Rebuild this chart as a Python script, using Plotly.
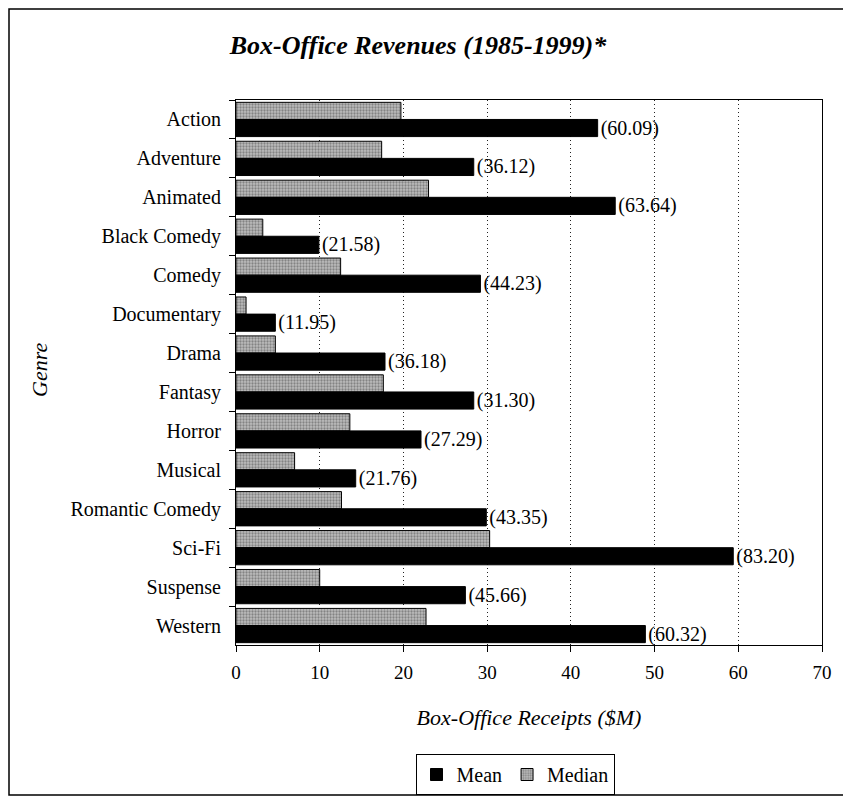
import plotly.graph_objects as go

genres = ["Action", "Adventure", "Animated", "Black Comedy", "Comedy", "Documentary",
          "Drama", "Fantasy", "Horror", "Musical", "Romantic Comedy", "Sci-Fi",
          "Suspense", "Western"]
mean_vals = [43.2, 28.4, 45.3, 9.9, 29.2, 4.7, 17.8, 28.4, 22.1, 14.3, 29.9, 59.4, 27.4, 48.9]
median_vals = [19.7, 17.4, 23.0, 3.2, 12.5, 1.2, 4.7, 17.6, 13.6, 7.0, 12.6, 30.3, 10.0, 22.7]
mean_labels = ["(60.09)", "(36.12)", "(63.64)", "(21.58)", "(44.23)", "(11.95)", "(36.18)",
               "(31.30)", "(27.29)", "(21.76)", "(43.35)", "(83.20)", "(45.66)", "(60.32)"]
x_ticks = [0, 10, 20, 30, 40, 50, 60, 70]

FONT = "Liberation Serif, Times New Roman, serif"

W, H = 843, 790          # page body has an 8px margin
L, T, PW, PH = 228, 92, 586, 545
B = H - T - PH
R = W - L - PW
def px(x):
    return (x - L) / PW
def py(y):
    return (T + PH - y) / PH

fig = go.Figure()
fig.add_trace(go.Bar(
    name="Median", y=genres, x=median_vals, orientation="h",
    marker=dict(color="#a0a0a0", line=dict(color="black", width=1),
                pattern=dict(shape=".", fgcolor="#4a4a4a", bgcolor="#bdbdbd",
                             size=3, solidity=0.45)),
    legendrank=2,
))
fig.add_trace(go.Bar(
    name="Mean", y=genres, x=mean_vals, orientation="h",
    marker=dict(color="black", line=dict(color="black", width=1)),
    text=mean_labels, textposition="outside", cliponaxis=False, constraintext="none",
    textfont=dict(family=FONT, size=20, color="black"),
    legendrank=1,
))

fig.update_layout(
    width=W, height=H,
    paper_bgcolor="white", plot_bgcolor="white",
    margin=dict(l=L, r=R, t=T, b=B, autoexpand=False),
    barmode="group", bargap=0.12, bargroupgap=0.0,
    font=dict(family=FONT, size=20, color="black"),
    title=dict(text="Box-Office Revenues (1985-1999)*", xref="container", x=410 / W,
               xanchor="center", yref="container", y=1 - 37 / H, yanchor="middle",
               font=dict(family=FONT, size=26, color="black", style="italic", weight="bold")),
    showlegend=True,
    legend=dict(orientation="h", x=px(507), xanchor="center", y=py(746), yanchor="top",
                bordercolor="black", borderwidth=1, font=dict(family=FONT, size=20),
                itemwidth=30, traceorder="normal", tracegroupgap=0),
    xaxis=dict(range=[0, 70], tickvals=x_ticks, ticks="outside", ticklen=6,
               tickcolor="black", showline=True, linecolor="black", linewidth=1,
               mirror=True, showgrid=True, gridcolor="#222", griddash="1px,3px",
               gridwidth=1, zeroline=False, tickfont=dict(family=FONT, size=19),
               automargin=False, ticklabelstandoff=4,
               title=dict(text="Box-Office Receipts ($M)", standoff=27,
                          font=dict(family=FONT, size=22, style="italic"))),
    yaxis=dict(autorange="reversed", ticks="outside", ticklen=6, tickcolor="black",
               tickson="boundaries", showline=True, linecolor="black", linewidth=1,
               mirror=True, showgrid=False, tickfont=dict(family=FONT, size=20),
               ticklabelstandoff=10, automargin=False),
    annotations=[dict(text="Genre", xref="paper", yref="paper",
                      x=px(31), y=py(362), textangle=-90,
                      showarrow=False, xanchor="center", yanchor="middle",
                      font=dict(family=FONT, size=22, style="italic"))],
    shapes=[dict(type="rect", xref="paper", yref="paper",
                 x0=px(1), x1=px(840), y0=py(787), y1=py(1),
                 line=dict(color="black", width=1.5), fillcolor="rgba(0,0,0,0)",
                 layer="below")],
)

fig.write_html("out.html")
